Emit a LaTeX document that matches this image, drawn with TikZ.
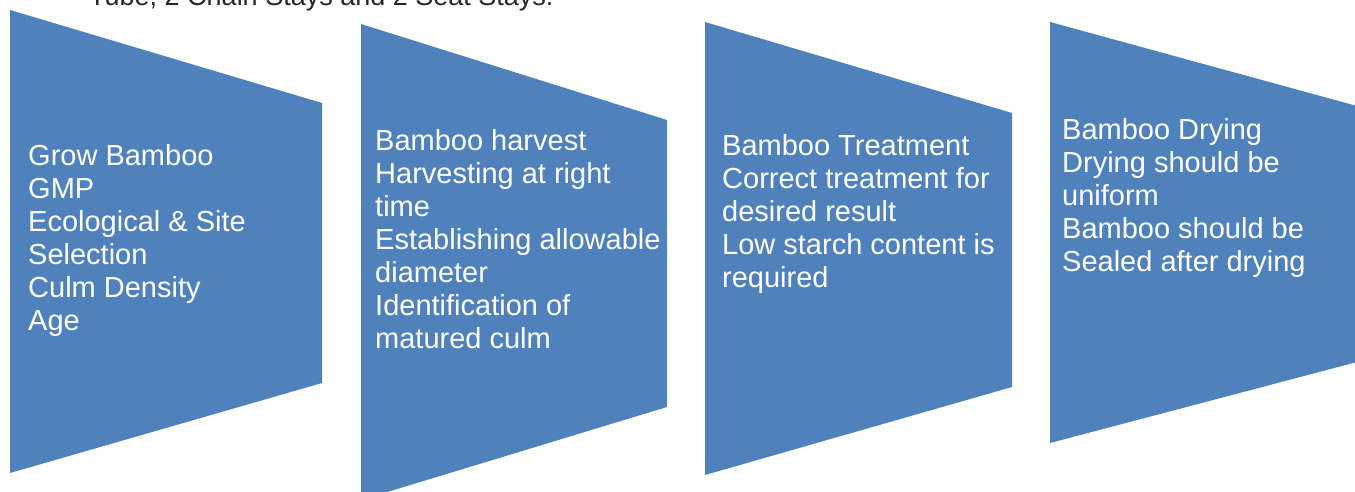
\documentclass[tikz,border=0pt]{standalone}
\usepackage{fontspec}
\setmainfont{Liberation Sans}
\definecolor{stageblue}{HTML}{4F81BD}
\begin{document}
\begin{tikzpicture}[x=1pt, y=-1pt,
  stage/.style={fill=stageblue},
  stagetext/.style={anchor=base west, inner sep=0pt, align=left, text=white,
    font=\fontsize{29}{33}\selectfont}]
  \useasboundingbox (0,0) rectangle (1355,492);
  \clip (0,0) rectangle (1355,492);
  % caption cut off at the top of the page
  \node[anchor=base west, inner sep=0pt, text=black!85,
    font=\fontsize{27}{33}\selectfont] (caption) at (89,6)
    {Tube, 2 Chain Stays and 2 Seat Stays.};
  % the four stages
  \fill[stage] (10,10) -- (322,103) -- (322,383) -- (10,473) -- cycle;
  \fill[stage] (361,24) -- (667,120) -- (667,407) -- (361,500) -- cycle;
  \fill[stage] (705,22) -- (1012,113) -- (1012,387) -- (705,475) -- cycle;
  \fill[stage] (1050,22) -- (1357,106) -- (1357,362) -- (1050,443) -- cycle;
  % text nodes sit on the baseline of their last line
  \node[stagetext] (grow) at (28,330)
    {Grow Bamboo\\GMP\\Ecological \& Site\\Selection\\Culm Density\\Age};
  \node[stagetext] (harvest) at (375,348)
    {Bamboo harvest\\Harvesting at right\\time\\Establishing allowable\\diameter\\Identification of\\matured culm};
  \node[stagetext] (treat) at (722,287)
    {Bamboo Treatment\\Correct treatment for\\desired result\\Low starch content is\\required};
  \node[stagetext] (dry) at (1062,271)
    {Bamboo Drying\\Drying should be\\uniform\\Bamboo should be\\Sealed after drying};
\end{tikzpicture}
\end{document}
